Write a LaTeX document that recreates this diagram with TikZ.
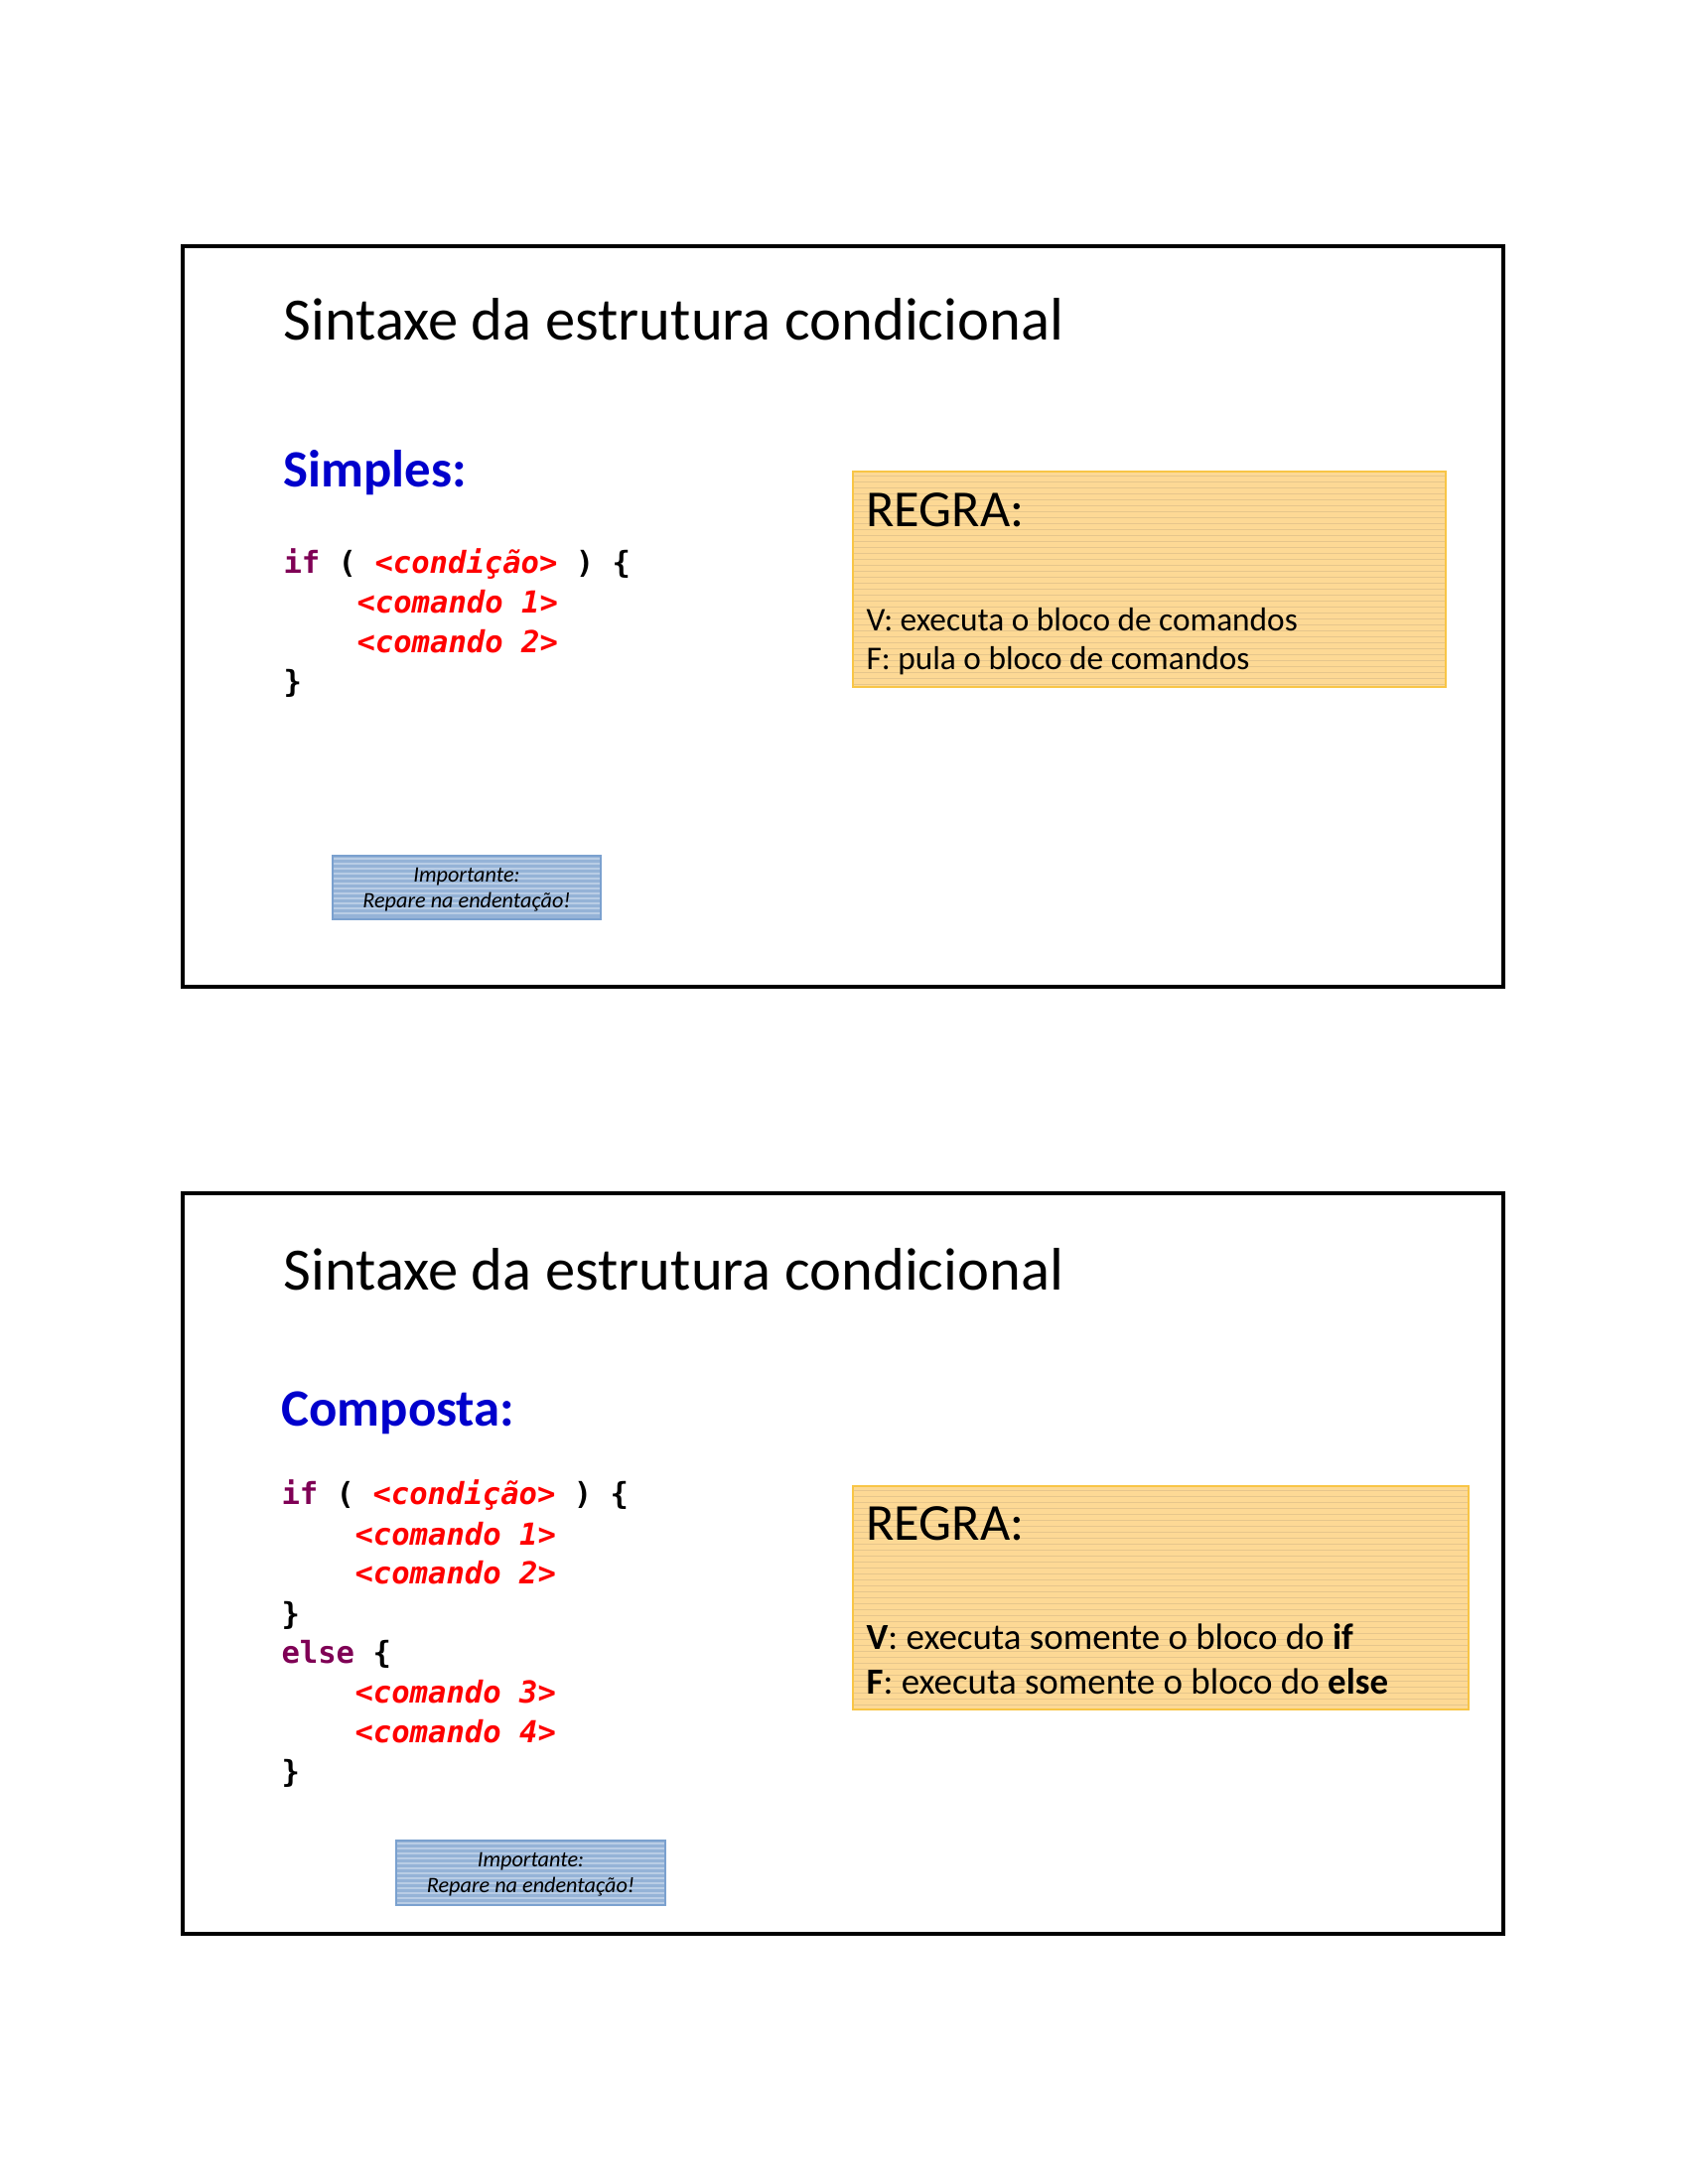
\documentclass[tikz,border=0pt]{standalone}
\usepackage{fontspec}
\setmainfont{Carlito}
\newfontfamily\codefont{DejaVu Sans Mono}
\usetikzlibrary{positioning}
\definecolor{kwpurple}{HTML}{7F0055}
\definecolor{cmdred}{HTML}{FF0000}
\definecolor{headblue}{HTML}{0000CC}
\definecolor{regrafill}{HTML}{FDD995}
\definecolor{regraline}{HTML}{E6C68C}
\definecolor{regraedge}{HTML}{F8C546}
\definecolor{notefill}{HTML}{95B3D7}
\definecolor{noteline}{HTML}{B9CDE5}
\definecolor{noteedge}{HTML}{7BA1CF}
\newcommand{\kw}[1]{\textcolor{kwpurple}{#1}}
\newcommand{\cmd}[1]{\textcolor{cmdred}{\itshape #1}}
\tikzset{
  txt/.style={anchor=base west, inner sep=0pt},
  slidetitle/.style={txt, font=\fontsize{21.8}{26}\selectfont},
  heading/.style={txt, text=headblue, font=\bfseries\fontsize{19}{23}\selectfont},
  code/.style={txt, font=\codefont\bfseries\fontsize{11}{13}\selectfont},
  regratitle/.style={txt, font=\fontsize{18.8}{22}\selectfont},
  notetext/.style={anchor=base, inner sep=0pt, font=\itshape\fontsize{8}{10}\selectfont},
}

\begin{document}
\begin{tikzpicture}[x=0.36pt,y=-0.36pt]
  \useasboundingbox (0,0) rectangle (1700,2200);
  % slide 1: frame
  \draw[line width=1.1pt] (184,248) rectangle (1514,994);
  \node[slidetitle] (title1) at (285,343) {Sintaxe da estrutura condicional};
  \node[heading] (simples) at (285,490) {Simples:};
  % code
  \node[code] (if1)   at (285,577) {\kw{if} ( \cmd{<condição>} ) \{};
  \node[code] (cmd11) at (359,617) {\cmd{<comando 1>}};
  \node[code] (cmd12) at (359,657) {\cmd{<comando 2>}};
  \node[code] (end1)  at (285,697) {\}};
  % rule box
  \fill[regrafill] (859,475) rectangle (1456,692);
  \foreach \y in {479,485,...,689}
    \draw[regraline,line width=0.35pt] (859,\y) -- (1456,\y);
  \draw[regraedge,line width=0.8pt] (859,475) rectangle (1456,692);
  \node[regratitle] (regra1) at (872,530) {REGRA:};
  \node[txt,font=\fontsize{12}{14}\selectfont] (vrule1) at (872,635) {V: executa o bloco de comandos};
  \node[txt,font=\fontsize{12}{14}\selectfont] (frule1) at (872,674) {F: pula o bloco de comandos};
  % note
  \fill[notefill] (335,862) rectangle (605,926);
  \foreach \y in {865,870,...,924}
    \draw[noteline,line width=0.6pt] (335,\y) -- (605,\y);
  \draw[noteedge,line width=0.6pt] (335,862) rectangle (605,926);
  \node[notetext] (note1a) at (470,888) {Importante:};
  \node[notetext] (note1b) at (470,914) {Repare na endentação!};

  % slide 2: frame
  \draw[line width=1.1pt] (184,1202) rectangle (1514,1948);
  \node[slidetitle] (title2) at (285,1299) {Sintaxe da estrutura condicional};
  \node[heading] (composta) at (283,1436) {Composta:};
  % code
  \node[code] (if2)   at (283,1515) {\kw{if} ( \cmd{<condição>} ) \{};
  \node[code] (cmd21) at (357,1556) {\cmd{<comando 1>}};
  \node[code] (cmd22) at (357,1595) {\cmd{<comando 2>}};
  \node[code] (end2)  at (283,1636) {\}};
  \node[code] (else2) at (283,1675) {\kw{else} \{};
  \node[code] (cmd23) at (357,1715) {\cmd{<comando 3>}};
  \node[code] (cmd24) at (357,1755) {\cmd{<comando 4>}};
  \node[code] (end3)  at (283,1795) {\}};
  % rule box
  \fill[regrafill] (859,1497) rectangle (1479,1722);
  \foreach \y in {1501,1507,...,1719}
    \draw[regraline,line width=0.35pt] (859,\y) -- (1479,\y);
  \draw[regraedge,line width=0.8pt] (859,1497) rectangle (1479,1722);
  \node[regratitle] (regra2) at (872,1551) {REGRA:};
  \node[txt,font=\fontsize{13.3}{16}\selectfont] (vrule2) at (872,1661) {\textbf{V}: executa somente o bloco do \textbf{if}};
  \node[txt,font=\fontsize{13.3}{16}\selectfont] (frule2) at (872,1706) {\textbf{F}: executa somente o bloco do \textbf{else}};
  % note
  \fill[notefill] (399,1854) rectangle (670,1919);
  \foreach \y in {1857,1862,...,1917}
    \draw[noteline,line width=0.6pt] (399,\y) -- (670,\y);
  \draw[noteedge,line width=0.6pt] (399,1854) rectangle (670,1919);
  \node[notetext] (note2a) at (534.5,1880) {Importante:};
  \node[notetext] (note2b) at (534.5,1906) {Repare na endentação!};
\end{tikzpicture}
\end{document}
